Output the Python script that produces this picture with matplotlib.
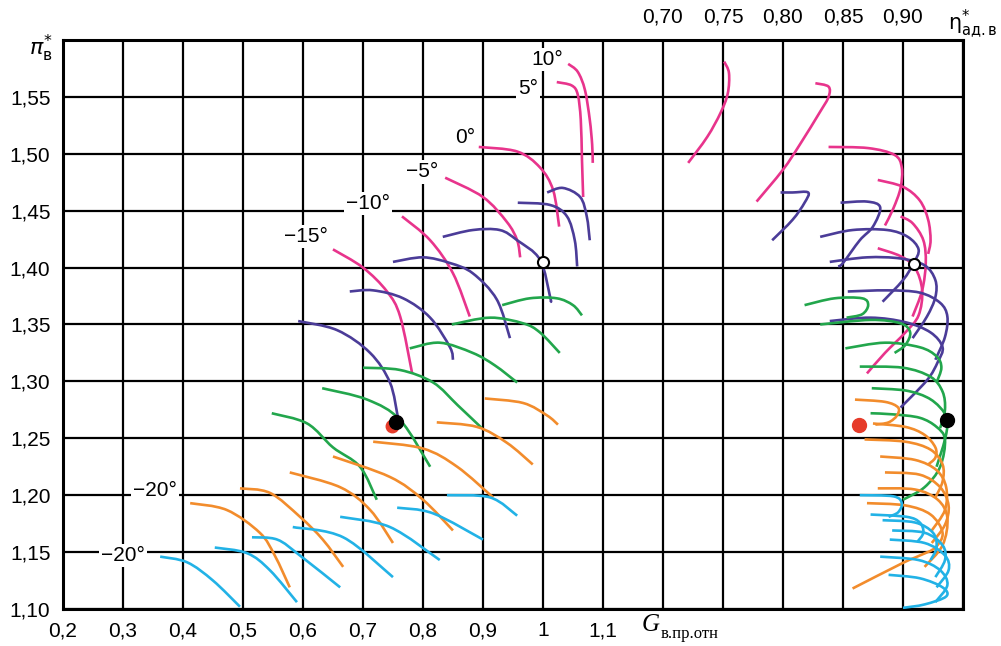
import numpy as np
import matplotlib
matplotlib.use("Agg")
import matplotlib.pyplot as plt
from matplotlib.path import Path
from matplotlib.patches import PathPatch

plt.rcParams['font.family'] = ['Liberation Sans', 'DejaVu Sans']
plt.rcParams['mathtext.fontset'] = 'dejavusans'

# colours of the speed lines
c_pink = '#e8348c'
c_blue = '#4b3c98'
c_green = '#22a64c'
c_orange = '#f28c2c'
c_cyan = '#22b2e6'

# pressure ratio vs relative flow (G, pi) -- left part of the map
pink_left = [
    ([1.042, 1.058, 1.070, 1.078, 1.082, 1.083], [1.579, 1.572, 1.556, 1.530, 1.508, 1.492]),  # 10
    ([1.023, 1.048, 1.058, 1.063, 1.065, 1.067], [1.563, 1.560, 1.552, 1.530, 1.495, 1.462]),  # 5
    ([0.893, 0.957, 0.995, 1.017, 1.027], [1.506, 1.502, 1.488, 1.468, 1.436]),                # 0
    ([0.837, 0.900, 0.940, 0.957, 0.962], [1.479, 1.462, 1.440, 1.424, 1.409]),                # -5
    ([0.765, 0.812, 0.850, 0.878], [1.445, 1.424, 1.395, 1.357]),                              # -10
    ([0.650, 0.700, 0.740, 0.762, 0.782], [1.416, 1.400, 1.379, 1.357, 1.307]),                # -15
]
blue_left = [
    ([1.007, 1.033, 1.062, 1.073, 1.078], [1.466, 1.470, 1.462, 1.445, 1.424]),
    ([0.958, 1.012, 1.040, 1.053, 1.057], [1.457, 1.455, 1.445, 1.424, 1.401]),
    ([0.833, 0.883, 0.928, 0.957, 0.995, 1.012, 1.013], [1.427, 1.433, 1.433, 1.424, 1.407, 1.374, 1.370]),
    ([0.750, 0.800, 0.845, 0.883, 0.923, 0.945], [1.405, 1.409, 1.404, 1.395, 1.372, 1.338]),
    ([0.678, 0.717, 0.767, 0.812, 0.845, 0.850], [1.379, 1.380, 1.373, 1.356, 1.330, 1.319]),
    ([0.592, 0.657, 0.712, 0.745, 0.758], [1.353, 1.345, 1.325, 1.299, 1.269]),
]
green_left = [
    ([0.932, 0.978, 1.023, 1.050, 1.065], [1.367, 1.373, 1.373, 1.367, 1.358]),
    ([0.848, 0.912, 0.967, 0.995, 1.028], [1.350, 1.356, 1.351, 1.343, 1.325]),
    ([0.778, 0.828, 0.883, 0.920, 0.957], [1.329, 1.334, 1.325, 1.314, 1.299]),
    ([0.700, 0.762, 0.817, 0.858, 0.898], [1.312, 1.310, 1.299, 1.279, 1.259]),
    ([0.632, 0.707, 0.762, 0.812], [1.294, 1.284, 1.266, 1.225]),
    ([0.548, 0.607, 0.650, 0.695, 0.723], [1.272, 1.263, 1.242, 1.225, 1.196]),
]
orange_left = [
    ([0.903, 0.967, 1.007, 1.025], [1.285, 1.281, 1.270, 1.262]),
    ([0.823, 0.890, 0.940, 0.983], [1.264, 1.260, 1.246, 1.227]),
    ([0.717, 0.800, 0.857, 0.917], [1.247, 1.241, 1.225, 1.198]),
    ([0.650, 0.745, 0.800, 0.850], [1.234, 1.216, 1.196, 1.169]),
    ([0.578, 0.662, 0.712, 0.750], [1.220, 1.207, 1.187, 1.158]),
    ([0.495, 0.545, 0.595, 0.633, 0.667], [1.206, 1.202, 1.181, 1.161, 1.137]),
    ([0.412, 0.473, 0.528, 0.553, 0.578], [1.193, 1.187, 1.167, 1.147, 1.119]),
]
cyan_left = [
    ([0.840, 0.912, 0.957], [1.200, 1.198, 1.182]),
    ([0.757, 0.817, 0.900], [1.189, 1.184, 1.161]),
    ([0.662, 0.745, 0.828], [1.181, 1.172, 1.143]),
    ([0.583, 0.667, 0.750], [1.172, 1.163, 1.128]),
    ([0.515, 0.557, 0.595, 0.662], [1.163, 1.161, 1.147, 1.119]),
    ([0.453, 0.507, 0.545, 0.590], [1.154, 1.149, 1.134, 1.106]),
    ([0.362, 0.407, 0.450, 0.495], [1.146, 1.141, 1.125, 1.102]),
]

# efficiency vs pressure ratio (eta, pi) -- right part of the map
pink_right = [
    ([0.751, 0.755, 0.754, 0.748, 0.737, 0.721], [1.581, 1.571, 1.553, 1.536, 1.515, 1.492]),
    ([0.827, 0.838, 0.838, 0.831, 0.814, 0.800, 0.778], [1.562, 1.559, 1.550, 1.537, 1.508, 1.486, 1.458]),
    ([0.838, 0.871, 0.893, 0.899, 0.898, 0.892, 0.885], [1.506, 1.505, 1.499, 1.488, 1.470, 1.452, 1.437]),
    ([0.879, 0.900, 0.914, 0.921, 0.923, 0.921], [1.477, 1.471, 1.459, 1.442, 1.424, 1.412]),
    ([0.898, 0.908, 0.917, 0.919, 0.916, 0.908], [1.445, 1.439, 1.424, 1.404, 1.380, 1.357]),
    ([0.879, 0.898, 0.910, 0.916, 0.913, 0.902, 0.885, 0.870], [1.417, 1.410, 1.400, 1.380, 1.358, 1.343, 1.325, 1.307]),
]
blue_right = [
    ([0.798, 0.808, 0.821, 0.818, 0.808, 0.791], [1.466, 1.466, 1.466, 1.457, 1.442, 1.424]),
    ([0.848, 0.870, 0.881, 0.875, 0.864, 0.850, 0.846], [1.457, 1.458, 1.453, 1.436, 1.424, 1.404, 1.401]),
    ([0.831, 0.858, 0.887, 0.904, 0.913, 0.909, 0.900, 0.883], [1.427, 1.433, 1.433, 1.427, 1.416, 1.404, 1.389, 1.370]),
    ([0.839, 0.870, 0.898, 0.918, 0.927, 0.927, 0.920, 0.908], [1.405, 1.409, 1.408, 1.402, 1.389, 1.374, 1.357, 1.338]),
    ([0.854, 0.887, 0.914, 0.931, 0.937, 0.935, 0.927], [1.379, 1.380, 1.378, 1.369, 1.357, 1.339, 1.319]),
    ([0.839, 0.873, 0.902, 0.923, 0.933, 0.929, 0.920, 0.898], [1.353, 1.356, 1.352, 1.343, 1.330, 1.317, 1.301, 1.277]),
]
green_right = [
    ([0.818, 0.843, 0.866, 0.871, 0.866, 0.853], [1.367, 1.373, 1.373, 1.367, 1.359, 1.356]),
    ([0.831, 0.873, 0.898, 0.906, 0.902, 0.893], [1.350, 1.354, 1.351, 1.343, 1.332, 1.325]),
    ([0.852, 0.885, 0.914, 0.928, 0.932, 0.928], [1.329, 1.334, 1.330, 1.322, 1.312, 1.299]),
    ([0.864, 0.900, 0.923, 0.933, 0.935, 0.931], [1.313, 1.312, 1.304, 1.291, 1.275, 1.259]),
    ([0.874, 0.902, 0.920, 0.931, 0.937, 0.935, 0.928], [1.294, 1.292, 1.286, 1.277, 1.266, 1.249, 1.225]),
    ([0.873, 0.892, 0.914, 0.928, 0.935, 0.931, 0.918, 0.900], [1.272, 1.271, 1.268, 1.260, 1.249, 1.225, 1.207, 1.196]),
]
orange_right = [
    ([0.860, 0.885, 0.896, 0.895, 0.888, 0.877], [1.284, 1.282, 1.277, 1.270, 1.264, 1.262]),
    ([0.875, 0.902, 0.918, 0.927, 0.927, 0.921], [1.263, 1.260, 1.253, 1.242, 1.233, 1.227]),
    ([0.868, 0.902, 0.923, 0.933, 0.933, 0.927], [1.249, 1.247, 1.240, 1.227, 1.212, 1.198]),
    ([0.881, 0.910, 0.928, 0.936, 0.935, 0.924], [1.234, 1.231, 1.222, 1.207, 1.187, 1.169]),
    ([0.885, 0.914, 0.931, 0.938, 0.935, 0.924], [1.220, 1.218, 1.207, 1.191, 1.174, 1.158]),
    ([0.879, 0.910, 0.929, 0.937, 0.933, 0.918], [1.206, 1.205, 1.196, 1.180, 1.156, 1.137]),
    ([0.870, 0.902, 0.923, 0.933, 0.927, 0.914, 0.899, 0.858], [1.193, 1.191, 1.183, 1.167, 1.154, 1.147, 1.140, 1.118]),
]
cyan_right = [
    ([0.864, 0.892, 0.899, 0.896, 0.888], [1.200, 1.199, 1.193, 1.185, 1.181]),
    ([0.873, 0.903, 0.914, 0.917, 0.912], [1.183, 1.181, 1.176, 1.167, 1.159]),
    ([0.883, 0.910, 0.925, 0.928, 0.923], [1.178, 1.176, 1.167, 1.154, 1.143]),
    ([0.891, 0.918, 0.933, 0.935, 0.927], [1.169, 1.167, 1.156, 1.143, 1.128]),
    ([0.889, 0.918, 0.935, 0.938, 0.928], [1.161, 1.158, 1.147, 1.134, 1.119]),
    ([0.881, 0.913, 0.931, 0.937, 0.927], [1.146, 1.143, 1.134, 1.121, 1.106]),
    ([0.888, 0.914, 0.933, 0.936, 0.918, 0.900], [1.130, 1.127, 1.119, 1.111, 1.104, 1.101]),
]

# operating points
black_pts_g, black_pts_pi = [0.755], [1.264]
red_pts_g, red_pts_pi = [0.748], [1.261]
white_pts_g, white_pts_pi = [1.000], [1.405]
black_eta, black_eta_pi = [0.937], [1.266]
red_eta, red_eta_pi = [0.863], [1.262]
white_eta, white_eta_pi = [0.909], [1.403]

x_ticks = [0.2, 0.3, 0.4, 0.5, 0.6, 0.7, 0.8, 0.9, 1.0, 1.1, 1.2, 1.3, 1.4, 1.5, 1.6, 1.7]
x_labels = ['0,2', '0,3', '0,4', '0,5', '0,6', '0,7', '0,8', '0,9', '1', '1,1', '', '', '', '', '', '']
y_ticks = [1.10, 1.15, 1.20, 1.25, 1.30, 1.35, 1.40, 1.45, 1.50, 1.55, 1.60]
y_labels = ['1,10', '1,15', '1,20', '1,25', '1,30', '1,35', '1,40', '1,45', '1,50', '1,55', '']
eta_ticks = [0.70, 0.75, 0.80, 0.85, 0.90]
eta_labels = ['0,70', '0,75', '0,80', '0,85', '0,90']


def g_to_eta(g):
    return 0.1 + 0.5 * np.asarray(g)


def eta_to_g(e):
    return (np.asarray(e) - 0.1) * 2.0


def smooth(ax, xs, ys, color):
    pts = np.column_stack([xs, ys]).astype(float)
    n = len(pts)
    verts = [pts[0]]
    codes = [Path.MOVETO]
    for i in range(n - 1):
        p0 = pts[i - 1] if i > 0 else pts[i]
        p1, p2 = pts[i], pts[i + 1]
        p3 = pts[i + 2] if i + 2 < n else pts[i + 1]
        verts += [p1 + (p2 - p0) / 6.0, p2 - (p3 - p1) / 6.0, p2]
        codes += [Path.CURVE4] * 3
    ax.add_patch(PathPatch(Path(verts, codes), fill=False, edgecolor=color,
                           lw=1.9, capstyle='butt', joinstyle='round', zorder=3))


fig = plt.figure(figsize=(10.01, 6.46), dpi=100)
ax = fig.add_axes([0.0629, 0.0573, 0.8991, 0.8808])
ax.set_xlim(0.2, 1.7)
ax.set_ylim(1.10, 1.60)

for group, col in [(pink_left, c_pink), (blue_left, c_blue), (green_left, c_green),
                   (orange_left, c_orange), (cyan_left, c_cyan)]:
    for g, p in group:
        smooth(ax, g, p, col)

for group, col in [(pink_right, c_pink), (blue_right, c_blue), (green_right, c_green),
                   (orange_right, c_orange), (cyan_right, c_cyan)]:
    for e, p in group:
        smooth(ax, eta_to_g(e), p, col)

ax.plot(red_pts_g, red_pts_pi, 'o', color='#e63b2a', ms=9, zorder=5)
ax.plot(black_pts_g, black_pts_pi, 'o', color='black', ms=10, zorder=6)
ax.plot(white_pts_g, white_pts_pi, 'o', mfc='white', mec='black', mew=1.5, ms=8, zorder=6)
ax.plot(eta_to_g(red_eta), red_eta_pi, 'o', color='#e63b2a', ms=10, zorder=5)
ax.plot(eta_to_g(black_eta), black_eta_pi, 'o', color='black', ms=10, zorder=6)
ax.plot(eta_to_g(white_eta), white_eta_pi, 'o', mfc='white', mec='black', mew=1.5, ms=8, zorder=6)

ax.set_xticks(x_ticks)
ax.set_xticklabels(x_labels)
ax.set_yticks(y_ticks)
ax.set_yticklabels(y_labels)
ax.tick_params(length=0, labelsize=15, pad=9)
ax.grid(True, color='black', lw=1.6, zorder=1)
ax.set_axisbelow(True)
for s in ax.spines.values():
    s.set_linewidth(2.2)

top = ax.secondary_xaxis('top', functions=(g_to_eta, eta_to_g))
top.set_xticks(eta_ticks)
top.set_xticklabels(eta_labels)
top.tick_params(length=0, labelsize=15, pad=10)
top.spines['top'].set_visible(False)

# angle labels of the guide vanes
bb = dict(facecolor='white', edgecolor='none', pad=1.5)
lab_kw = dict(fontsize=15, ha='center', va='center', bbox=bb, zorder=4)
ax.text(1.007, 1.583, '10°', **lab_kw)
ax.text(0.975, 1.557, '5°', **lab_kw)
ax.text(0.870, 1.514, '0°', **lab_kw)
ax.text(0.798, 1.484, '−5°', **lab_kw)
ax.text(0.708, 1.456, '−10°', **lab_kw)
ax.text(0.605, 1.427, '−15°', **lab_kw)
ax.text(0.353, 1.204, '−20°', **lab_kw)
ax.text(0.300, 1.147, '−20°', **lab_kw)

fig.text(0.041, 0.925, r'$\pi^{*}_{\mathrm{в}}$', fontsize=16, ha='center', va='center')
fig.text(0.997, 0.963, r'$\mathrm{\eta}^{*}_{\mathrm{ад{.}в}}$', fontsize=15, ha='right', va='center')
fig.text(0.641, 0.032, 'G', fontsize=18, style='italic', family='Liberation Serif',
         ha='left', va='center')
fig.text(0.660, 0.019, 'в.пр.отн', fontsize=12, family='Liberation Serif',
         ha='left', va='center')

fig.savefig('out.png', dpi=100)
